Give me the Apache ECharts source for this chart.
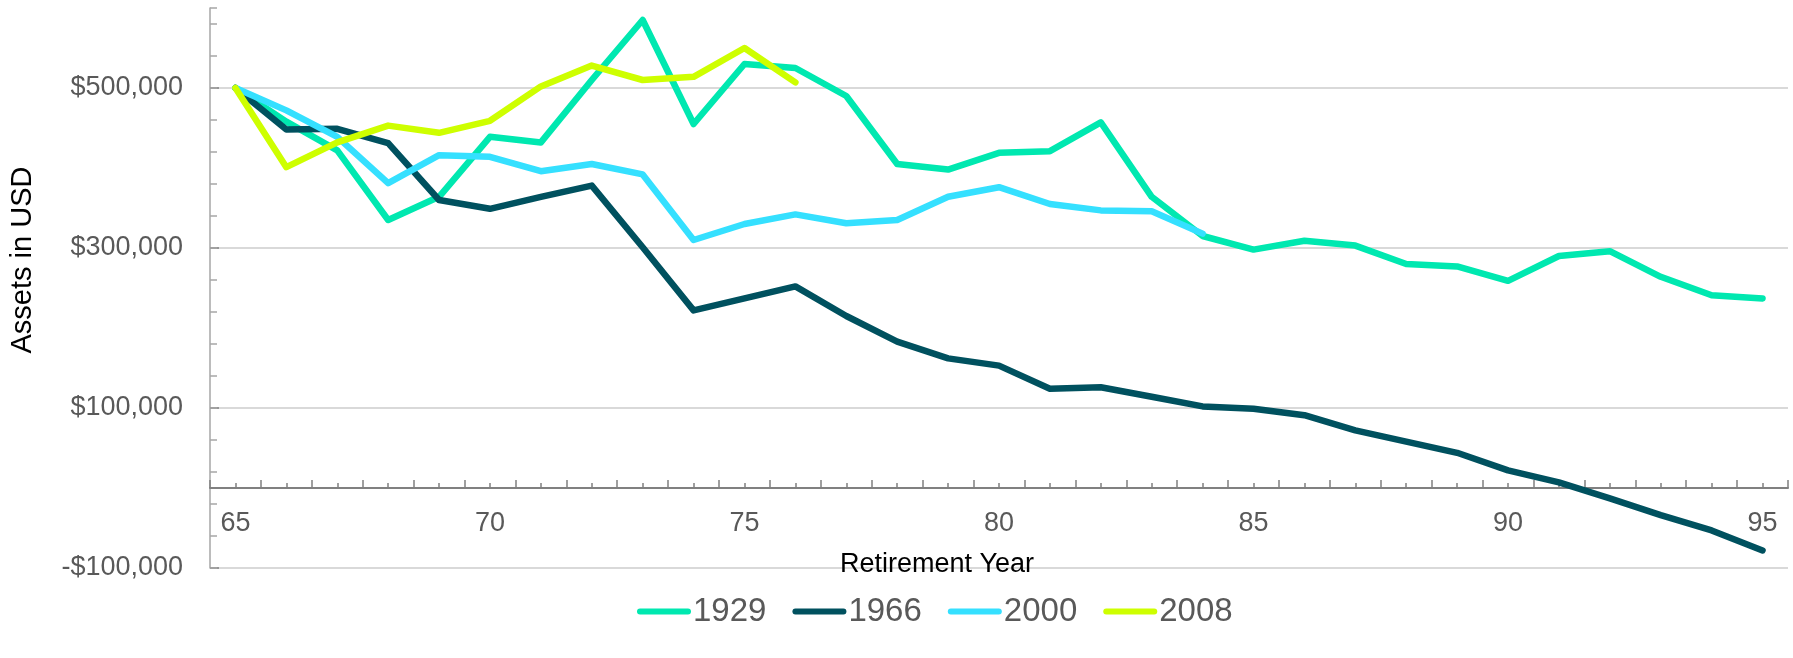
<!DOCTYPE html>
<html>
<head>
<meta charset="utf-8">
<script src="https://cdn.jsdelivr.net/npm/echarts@6/dist/echarts.min.js"></script>
<style>
  html, body { margin: 0; padding: 0; background: #fff; }
  #chart { width: 1793px; height: 658px; }
</style>
</head>
<body>
<div id="chart"></div>
<script>
// retirement age on the x axis
var years = ['65', '66', '67', '68', '69', '70', '71', '72', '73', '74', '75',
  '76', '77', '78', '79', '80', '81', '82', '83', '84', '85',
  '86', '87', '88', '89', '90', '91', '92', '93', '94', '95'];

// assets in USD, one array per starting year
var s1929 = [500000, 458000, 422000, 335000, 364000, 439000, 432000, 510000, 585000, 455000,
  530000, 525000, 490000, 405000, 398000, 419000, 421000, 457000, 364000, 315000,
  298000, 309000, 303000, 280000, 277000, 259000, 290000, 296000, 264000, 241000, 237000];
var s1966 = [500000, 448000, 449000, 431000, 360000, 349000, 364000, 378000, 301000, 222000,
  237000, 252000, 215000, 183000, 162000, 153000, 124000, 126000, 114000, 102000,
  99000, 91000, 72000, 58000, 44000, 22000, 7000, -13000, -34000, -53000, -78000];
var s2000 = [500000, 472000, 439000, 381000, 416000, 414000, 396000, 405000, 392000, 310000,
  330000, 342000, 331000, 335000, 364000, 376000, 355000, 347000, 346000, 318000];
var s2008 = [500000, 401000, 432000, 453000, 444000, 459000, 502000, 528000, 510000, 514000,
  550000, 507000];

var seriesNames = ['1929', '1966', '2000', '2008'];
var seriesData = [s1929, s1966, s2000, s2008];
var colors = ['#00E8B0', '#00515F', '#35E0FF', '#CEFF00'];

var yMin = -100000, yMax = 600000;
var gridTop = 8, gridBottom = 90;
var font = 'Liberation Sans, Arial, sans-serif';

// the x axis sits on the zero line; shift it up from the grid bottom
var plotHeight = 658 - gridTop - gridBottom;
var zeroShift = -Math.round(plotHeight * (0 - yMin) / (yMax - yMin));

function money(v) {
  var s = '$' + Math.abs(v).toString().replace(/\B(?=(\d{3})+(?!\d))/g, ',');
  return v < 0 ? '-' + s : s;
}

var dom = document.getElementById('chart');
var myChart = echarts.init(dom);

var option = {
  animation: false,
  color: colors,
  grid: { left: 207, right: 5, top: gridTop, bottom: gridBottom },
  legend: {
    data: seriesNames,
    left: 632,
    top: 590,
    itemWidth: 54,
    itemHeight: 7,
    itemGap: 26,
    selectedMode: false,
    icon: 'path://M3,0 H51 A3,3 0 0 1 51,6 H3 A3,3 0 0 1 3,0 Z',
    textStyle: { fontSize: 33, color: '#595959', fontFamily: font, padding: [0, 0, 0, -3] }
  },
  xAxis: [{
    type: 'category',
    position: 'bottom',
    offset: zeroShift,
    data: years,
    boundaryGap: true,
    name: 'Retirement Year',
    nameLocation: 'middle',
    nameGap: 63,
    nameTextStyle: { fontSize: 27, color: '#000', fontFamily: font, padding: [0, 124, 0, 0] },
    axisLine: { onZero: false, lineStyle: { color: '#808080', width: 2 } },
    axisTick: { show: true, inside: true, interval: 0, length: 8, lineStyle: { color: '#808080', width: 1.5 } },
    axisLabel: { interval: 4, margin: 22, fontSize: 27, color: '#595959', fontFamily: font },
    splitLine: { show: false }
  }, {
    type: 'category',
    position: 'bottom',
    offset: zeroShift,
    data: years,
    boundaryGap: true,
    axisLine: { show: false, onZero: false },
    axisTick: { show: true, inside: true, interval: 0, alignWithLabel: true, length: 5, lineStyle: { color: '#808080', width: 1.5 } },
    axisLabel: { show: false },
    splitLine: { show: false }
  }],
  yAxis: [{
    type: 'value',
    position: 'left',
    min: yMin,
    max: yMax,
    interval: 200000,
    name: 'Assets in USD',
    nameLocation: 'middle',
    nameRotate: 90,
    nameGap: 173,
    nameTextStyle: { fontSize: 29, color: '#000', fontFamily: font, padding: [0, 0, 0, 56] },
    axisLine: { show: true, lineStyle: { color: '#a6a6a6', width: 1.5 } },
    axisTick: { show: true, inside: true, length: 9, lineStyle: { color: '#808080', width: 1.5 } },
    axisLabel: { showMaxLabel: false, margin: 27, fontSize: 27, color: '#595959', fontFamily: font, formatter: money },
    splitLine: { show: true, showMaxLine: false, lineStyle: { color: '#d9d9d9', width: 2 } }
  }, {
    type: 'value',
    position: 'left',
    min: yMin,
    max: yMax,
    interval: 40000,
    axisLine: { show: false },
    axisTick: { show: true, inside: true, length: 7, lineStyle: { color: '#a6a6a6', width: 1.5 } },
    axisLabel: { show: false },
    splitLine: { show: false }
  }],
  series: seriesNames.map(function (name, i) {
    return {
      name: name,
      type: 'line',
      data: seriesData[i],
      symbol: 'none',
      lineStyle: { width: 6.5, color: colors[i], cap: 'round', join: 'round' },
      itemStyle: { color: colors[i] }
    };
  })
};

if (option && typeof option === 'object') {
  myChart.setOption(option, true);
}
</script>
</body>
</html>
